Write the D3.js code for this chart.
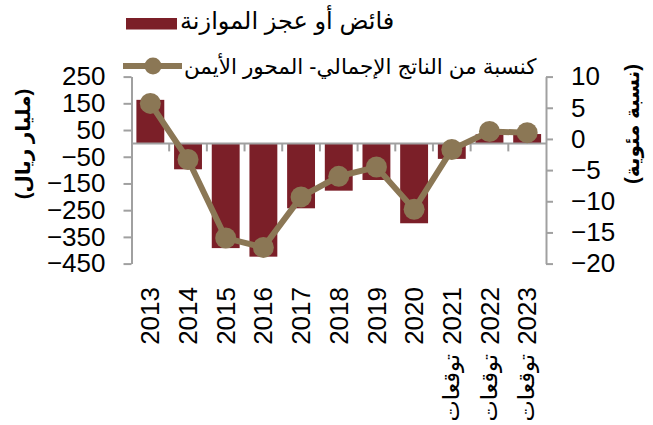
<!DOCTYPE html>
<html>
<head>
<meta charset="utf-8">
<script src="https://cdn.jsdelivr.net/npm/d3@7"></script>
<style>
  body { margin: 0; background: #fff; }
  svg text { font-family: "Liberation Sans", Arial, "DejaVu Sans", sans-serif; fill: #000; }
</style>
</head>
<body>
<div id="chart"></div>
<script>
// data
const years = ["2013", "2014", "2015", "2016", "2017", "2018", "2019", "2020", "2021", "2022", "2023"];
const forecast = [false, false, false, false, false, false, false, false, true, true, true];
const balance = [163, -97, -392, -424, -243, -177, -137, -299, -58, 34, 35];   // مليار ريال
const pctGdp = [5.7, -3.3, -15.9, -17.4, -9.3, -6.0, -4.5, -11.3, -1.7, 1.2, 1.0]; // %
const leftTicks = [250, 150, 50, -50, -150, -250, -350, -450];
const rightTicks = [10, 5, 0, -5, -10, -15, -20];
const forecastLabel = "توقعات";
const barName = "فائض أو عجز الموازنة";
const lineName = "كنسبة من الناتج الإجمالي- المحور الأيمن";
const leftTitle = "(مليار ريال)";
const rightTitle = "(نسبة مئوية)";

const barColor = "#7b1f28";
const lineColor = "#8b7755";
const axisColor = "#a0a0a0";

const width = 653, height = 425;
const plot = { left: 131.5, right: 546, top: 76.6, bottom: 263.6 };

const svg = d3.select("#chart")
    .append("svg")
    .attr("width", width)
    .attr("height", height);

const x = d3.scaleBand()
    .domain(years)
    .range([plot.left, plot.right])
    .paddingInner(0.26)
    .paddingOuter(0.13);

const yL = d3.scaleLinear().domain([-450, 250]).range([plot.bottom, plot.top]);
const yR = d3.scaleLinear().domain([-20, 10]).range([plot.bottom, plot.top]);

// bars
svg.append("g")
    .selectAll("rect")
    .data(years)
    .join("rect")
    .attr("x", d => x(d))
    .attr("width", x.bandwidth())
    .attr("y", (d, i) => yL(Math.max(0, balance[i])))
    .attr("height", (d, i) => Math.abs(yL(balance[i]) - yL(0)))
    .attr("fill", barColor);

// left axis
const gL = svg.append("g")
    .attr("transform", `translate(${plot.left},0)`)
    .call(d3.axisLeft(yL).tickValues(leftTicks).tickSize(8).tickSizeOuter(0).tickPadding(18));

// right axis
const gR = svg.append("g")
    .attr("transform", `translate(${plot.right},0)`)
    .call(d3.axisRight(yR).tickValues(rightTicks).tickSize(7).tickSizeOuter(0).tickPadding(18));

[gL, gR].forEach(g => {
    g.selectAll("path, line").attr("stroke", axisColor).attr("stroke-width", 2);
    g.selectAll("text").style("font-size", "26px");
});

// category axis at zero
const y0 = yL(0);
const xg = svg.append("g");
xg.append("line")
    .attr("x1", plot.left).attr("x2", plot.right)
    .attr("y1", y0).attr("y2", y0)
    .attr("stroke", axisColor).attr("stroke-width", 2);
xg.selectAll("line.tick")
    .data(years.slice(1))
    .join("line")
    .attr("class", "tick")
    .attr("x1", d => x(d) - x.step() * x.paddingInner() / 2)
    .attr("x2", d => x(d) - x.step() * x.paddingInner() / 2)
    .attr("y1", y0).attr("y2", y0 + 8)
    .attr("stroke", axisColor).attr("stroke-width", 2);

// year labels, rotated
const labelTop = 287;
years.forEach((yr, i) => {
    const cx = x(yr) + x.bandwidth() / 2;
    svg.append("text")
        .attr("transform", `translate(${cx},${labelTop}) rotate(-90)`)
        .attr("text-anchor", "end")
        .attr("dy", "0.35em")
        .style("font-size", "26px")
        .text(yr);
    if (forecast[i]) {
        svg.append("text")
            .attr("transform", `translate(${cx},${labelTop + 67}) rotate(-90)`)
            .attr("text-anchor", "end")
            .attr("dy", "0.32em")
            .style("font-size", "22.5px")
            .text(forecastLabel);
    }
});

// line
const line = d3.line()
    .x((d, i) => x(years[i]) + x.bandwidth() / 2)
    .y(d => yR(d));

svg.append("path")
    .datum(pctGdp)
    .attr("d", line)
    .attr("fill", "none")
    .attr("stroke", lineColor)
    .attr("stroke-width", 6);

svg.append("g")
    .selectAll("circle")
    .data(pctGdp)
    .join("circle")
    .attr("cx", (d, i) => x(years[i]) + x.bandwidth() / 2)
    .attr("cy", d => yR(d))
    .attr("r", 10.5)
    .attr("fill", lineColor);

// axis titles
svg.append("text")
    .attr("transform", "translate(23,144) rotate(-90)")
    .attr("text-anchor", "middle")
    .attr("dy", "0.35em")
    .style("font-size", "20px")
    .style("font-weight", "bold")
    .text(leftTitle);

svg.append("text")
    .attr("transform", "translate(632,124) rotate(-90)")
    .attr("text-anchor", "middle")
    .attr("dy", "0.35em")
    .style("font-size", "20px")
    .style("font-weight", "bold")
    .text(rightTitle);

// legend
svg.append("rect").attr("x", 126).attr("y", 18).attr("width", 51).attr("height", 11.5).attr("fill", barColor);
svg.append("text").attr("x", 180).attr("y", 29).style("font-size", "24px").text(barName);

svg.append("line").attr("x1", 123).attr("x2", 182).attr("y1", 66).attr("y2", 66)
    .attr("stroke", lineColor).attr("stroke-width", 6);
svg.append("circle").attr("cx", 153).attr("cy", 66).attr("r", 8.5).attr("fill", lineColor);
svg.append("text").attr("x", 184).attr("y", 74).style("font-size", "21.5px").text(lineName);
</script>
</body>
</html>
